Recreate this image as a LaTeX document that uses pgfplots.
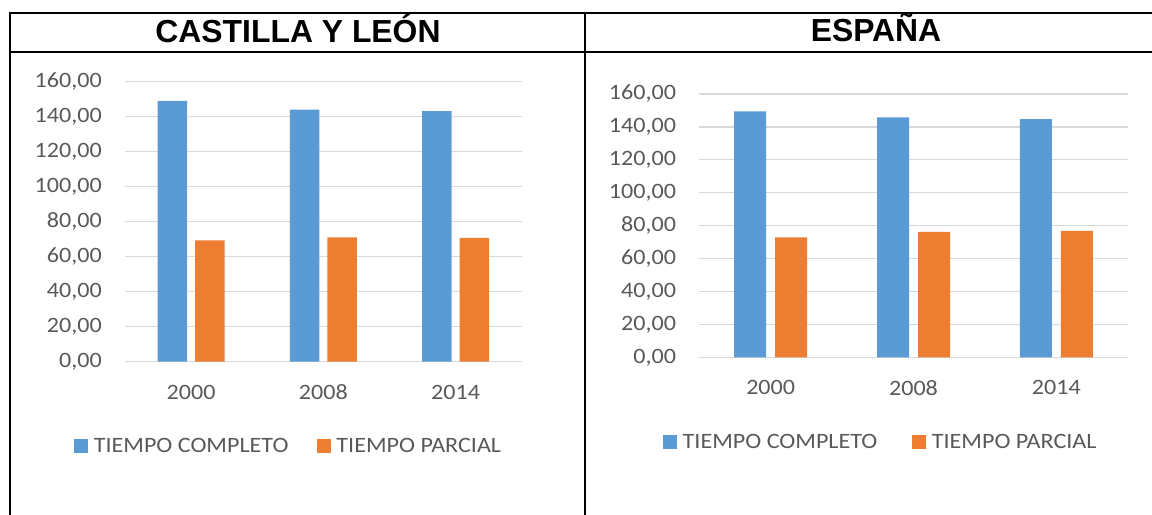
\documentclass[border=0pt]{standalone}
\usepackage{fontspec}
\setmainfont{Carlito}
\newfontfamily\legfont{Carlito}[FakeStretch=1.1]
\newfontfamily\titlefont{Liberation Sans}
\usepackage{pgfplots}
\pgfplotsset{compat=1.18}

\definecolor{cblue}{HTML}{5B9BD5}
\definecolor{corange}{HTML}{ED7D31}
\definecolor{txtgray}{HTML}{595959}
\definecolor{gridgray}{HTML}{D9D9D9}

\pgfplotsset{
  sqlegend/.style={legend image code/.code={\fill[##1] (0bp,-7bp) rectangle (14bp,7bp);}},
  excelbar/.style={
    scale only axis,
    anchor=origin,
    ybar,
    ymin=0, ymax=160, ytick={0,20,...,160},
    xmin=-0.5, xmax=2.5, xtick={0,1,2}, xticklabels={2000,2008,2014},
    axis line style={draw=none},
    major tick length=0pt,
    ymajorgrids,
    major grid style={gridgray, line width=1.3bp},
    tick label style={font=\legfont\fontsize{22}{22}\selectfont, text=txtgray},
    yticklabel style={anchor=east, inner sep=0pt, xshift=-23bp},
    xticklabel style={anchor=north, inner sep=0pt, yshift=-23bp},
    /pgf/number format/.cd, fixed, fixed zerofill, precision=2, use comma,
      assume math mode=true,
    /pgfplots/.cd,
    every axis plot post/.append style={sqlegend},
    legend columns=2,
    legend style={draw=none, fill=none, inner sep=0pt, outer sep=0pt,
      anchor=west, font=\legfont\fontsize{22}{22}\selectfont, text=txtgray,
      nodes={inner sep=0pt},
      /tikz/every odd column/.append style={column sep=6bp}},
  }
}

\begin{document}
\begin{tikzpicture}
\useasboundingbox (0bp,0bp) rectangle (1152bp,515bp);

% frame of the table
\draw[line width=2bp] (10bp,0bp) -- (10bp,501.7bp) -- (1152bp,501.7bp);
\draw[line width=2bp] (10bp,463.3bp) -- (1152bp,463.3bp);
\draw[line width=2bp] (585bp,0bp) -- (585bp,501.7bp);

\node[anchor=base, font=\titlefont\bfseries\fontsize{32}{32}\selectfont]
  at (298bp,472bp) {CASTILLA Y LEÓN};
\node[anchor=base, font=\titlefont\bfseries\fontsize{32}{32}\selectfont]
  at (876bp,473bp) {ESPAÑA};

% Castilla y Leon
\begin{axis}[excelbar,
  at={(191.1bp,153.3bp)}, width=396.7bp, height=280bp,
  bar width=29.5bp, ybar=8bp,
  legend style={at={(-0.129,-0.302)},
    /tikz/every even column/.append style={column sep=28bp}}]
\addplot[fill=cblue, draw=none] coordinates {(0,149.1) (1,144.0) (2,143.2)};
\addlegendentry{TIEMPO COMPLETO}
\addplot[fill=corange, draw=none] coordinates {(0,69.3) (1,71.0) (2,70.7)};
\addlegendentry{TIEMPO PARCIAL}
\end{axis}

% Espana
\begin{axis}[excelbar,
  at={(770.7bp,157.7bp)}, width=428.4bp, height=263.3bp,
  bar width=32bp, ybar=9bp,
  legend style={at={(-0.0854,-0.3217)},
    /tikz/every even column/.append style={column sep=34.5bp}}]
\addplot[fill=cblue, draw=none] coordinates {(0,149.5) (1,145.8) (2,144.8)};
\addlegendentry{TIEMPO COMPLETO}
\addplot[fill=corange, draw=none] coordinates {(0,72.9) (1,76.2) (2,76.8)};
\addlegendentry{TIEMPO PARCIAL}
\end{axis}
\end{tikzpicture}
\end{document}
